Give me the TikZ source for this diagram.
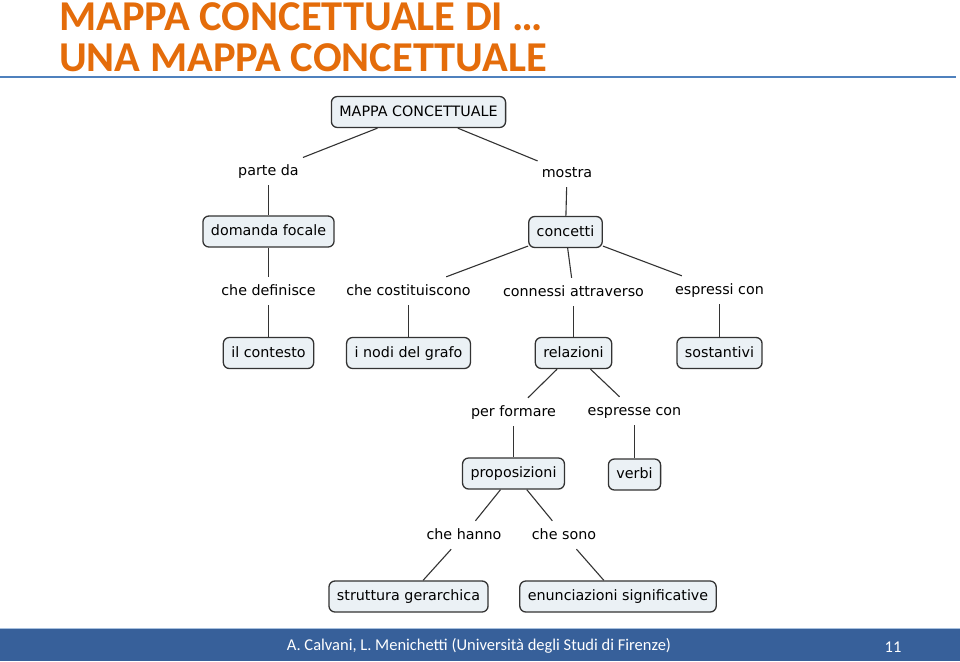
\documentclass[tikz,border=0pt]{standalone}
\usepackage{fontspec}
\setmainfont{DejaVu Sans}
\newfontfamily\titlefont{Carlito}
\definecolor{titleorange}{HTML}{E46C0A}
\definecolor{rulesblue}{HTML}{4F81BD}
\definecolor{footerblue}{HTML}{37609A}
\definecolor{boxfill}{HTML}{EBF1F5}
\definecolor{linegray}{HTML}{333333}
\begin{document}
\begin{tikzpicture}[x=1pt,y=-1pt,
  concept/.style={draw=linegray, line width=1.3pt, rounded corners=6pt, fill=boxfill,
    font=\fontsize{14.3}{17}\selectfont, inner xsep=8pt, inner ysep=0pt, minimum height=31pt,
    text height=11pt, text depth=3pt},
  linklabel/.style={font=\fontsize{14.3}{17}\selectfont, inner xsep=4pt, inner ysep=7pt,
    text height=11pt, text depth=3pt},
  titletext/.style={anchor=base west, inner sep=0pt, text=titleorange, font=\titlefont\bfseries\fontsize{42.5}{46}\selectfont},
  foottext/.style={anchor=base, inner sep=0pt, text=white, font=\titlefont\fontsize{16.5}{20}\selectfont},
  conn/.style={draw=linegray, line width=1.1pt}]
\useasboundingbox (0,0) rectangle (960,661);
\fill[white] (0,0) rectangle (960,661);
% title
\node[titletext] (t1) at (59,30.5) {MAPPA CONCETTUALE DI …};
\node[titletext] (t2) at (59,71) {UNA MAPPA CONCETTUALE};
\draw[rulesblue, line width=2pt] (0,77) -- (956,77);
% footer
\fill[footerblue] (0,628) rectangle (960,661);
\draw[rulesblue!50, line width=0.8pt] (0,628) -- (960,628);
\node[foottext] (foot) at (479,650) {A. Calvani, L. Menichetti (Università degli Studi di Firenze)};
\node[foottext] (pg) at (893,652) {11};
% concepts
\node[concept] (mappa) at (418.5,112) {MAPPA CONCETTUALE};
\node[concept] (domanda) at (268.5,231.5) {domanda focale};
\node[concept] (concetti) at (565.5,232) {concetti};
\node[concept] (contesto) at (268.5,353) {il contesto};
\node[concept] (nodi) at (408.5,353) {i nodi del grafo};
\node[concept] (relazioni) at (573.5,353) {relazioni};
\node[concept] (sostantivi) at (719.5,353) {sostantivi};
\node[concept] (proposizioni) at (513.5,473.5) {proposizioni};
\node[concept] (verbi) at (634.5,474.5) {verbi};
\node[concept] (struttura) at (408.5,596.5) {struttura gerarchica};
\node[concept] (enunciazioni) at (618,596.5) {enunciazioni significative};
% link labels
\node[linklabel] (partada) at (268.5,171) {parte da};
\node[linklabel] (mostra) at (567,173) {mostra};
\node[linklabel] (chedef) at (268.5,291) {che definisce};
\node[linklabel] (checost) at (408.5,291) {che costituiscono};
\node[linklabel] (connessi) at (573.5,292) {connessi attraverso};
\node[linklabel] (espressi) at (719.5,290) {espressi con};
\node[linklabel] (performare) at (513.5,412) {per formare};
\node[linklabel] (espresse) at (634.5,411) {espresse con};
\node[linklabel] (chehanno) at (464,535) {che hanno};
\node[linklabel] (chesono) at (564,535) {che sono};
% connectors
\draw[conn] (mappa) -- (partada);
\draw[conn] (mappa) -- (mostra);
\draw[conn] (partada) -- (domanda);
\draw[conn] (mostra) -- (concetti);
\draw[conn] (domanda) -- (chedef);
\draw[conn] (chedef) -- (contesto);
\draw[conn] (concetti) -- (checost);
\draw[conn] (concetti) -- (connessi);
\draw[conn] (concetti) -- (espressi);
\draw[conn] (checost) -- (nodi);
\draw[conn] (connessi) -- (relazioni);
\draw[conn] (espressi) -- (sostantivi);
\draw[conn] (relazioni) -- (performare);
\draw[conn] (relazioni) -- (espresse);
\draw[conn] (performare) -- (proposizioni);
\draw[conn] (espresse) -- (verbi);
\draw[conn] (proposizioni) -- (chehanno);
\draw[conn] (proposizioni) -- (chesono);
\draw[conn] (chehanno) -- (struttura);
\draw[conn] (chesono) -- (enunciazioni);
\end{tikzpicture}
\end{document}
